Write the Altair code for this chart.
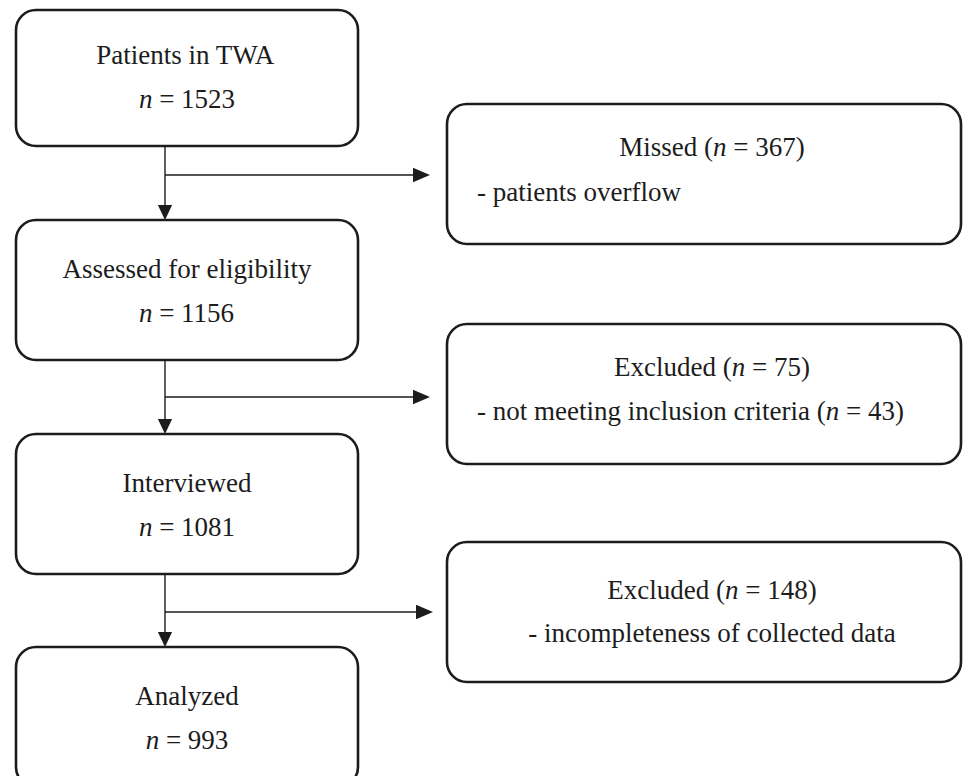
import altair as alt
import pandas as pd

# ---------------- data ----------------
stage_labels = ["Patients in TWA", "Assessed for eligibility", "Interviewed", "Analyzed"]
stage_counts = [1523, 1156, 1081, 993]
side_titles = ["Missed", "Excluded", "Excluded"]
side_counts = [367, 75, 148]
side_reasons = ["patients overflow", "not meeting inclusion criteria", "incompleteness of collected data"]
side_reason_counts = [None, 43, None]

# ---------------- layout (page pixels) ----------------
PX0, PX1 = 8, 963
PY0, PY1 = 8, 776
stage_box_x = (16, 358)
stage_box_tops = [6, 220, 434, 647]
stage_box_draw_tops = [10, 220, 434, 647]
stage_box_h = 140
stage_cx = 187
stage_line1_dy = 58
stage_line2_dy = 102
side_box_x = (447, 961)
side_box_tops = [104, 324, 542]
side_box_h = 140
side_cx = 712
side_left = 477
side_line1_dy = [52, 52, 57]
side_line2_dy = [97, 96, 100]
side_line2_align = ["left", "left", "center"]
branch_y = [175, 397, 612]
branch_tip_x = [430, 430, 433]
trunk_x = 165
head_len_v = 15
head_len_h = 17

FONT = "Liberation Serif"
FS = 27
INK = "#1c1c1c"

# Times / Liberation Serif advance widths (em)
W = {" ": .25, "(": .333, ")": .333, "=": .564, "-": .333,
     "a": .444, "b": .5, "c": .444, "d": .5, "e": .444, "f": .333, "g": .5,
     "h": .5, "i": .278, "l": .278, "m": .778, "n": .5, "o": .5, "p": .5,
     "r": .333, "s": .389, "t": .278, "u": .5, "v": .5, "w": .722, "y": .5,
     "z": .444, "x": .5, "A": .722, "E": .611, "I": .333, "M": .889,
     "P": .556, "T": .611, "W": .944}


def width(s):
    return sum(W.get(c, 0.5) for c in s) * FS


def place(segs, y, anchor, align):
    total = sum(width(t) for t, _ in segs)
    x = anchor - total / 2 if align == "center" else anchor
    rows = []
    for t, it in segs:
        lead = len(t) - len(t.lstrip(" "))
        rows.append(dict(x=x + lead * W[" "] * FS, y=y, text=t.strip(" "), italic=it))
        x += width(t)
    return rows


# ---------------- tables ----------------
box_rows = []
for dtop, top in zip(stage_box_draw_tops, stage_box_tops):
    box_rows.append(dict(x=stage_box_x[0], x2=stage_box_x[1], y=dtop, y2=top + stage_box_h))
for top in side_box_tops:
    box_rows.append(dict(x=side_box_x[0], x2=side_box_x[1], y=top, y2=top + side_box_h))
box_df = pd.DataFrame(box_rows)

text_rows = []
for lab, cnt, top in zip(stage_labels, stage_counts, stage_box_tops):
    text_rows += place([(lab, False)], top + stage_line1_dy, stage_cx, "center")
    text_rows += place([("n", True), (f" = {cnt}", False)], top + stage_line2_dy, stage_cx, "center")
for i, (tt, cnt, rs, rc, top) in enumerate(zip(side_titles, side_counts, side_reasons,
                                                side_reason_counts, side_box_tops)):
    text_rows += place([(f"{tt} (", False), ("n", True), (f" = {cnt})", False)],
                       top + side_line1_dy[i], side_cx, "center")
    if rc is None:
        segs = [(f"- {rs}", False)]
    else:
        segs = [(f"- {rs} (", False), ("n", True), (f" = {rc})", False)]
    al = side_line2_align[i]
    text_rows += place(segs, top + side_line2_dy[i], side_left if al == "left" else side_cx, al)
text_df = pd.DataFrame(text_rows)

rule_rows = []
down_rows = []
right_rows = []
for k in range(3):
    bottom = stage_box_tops[k] + stage_box_h
    nxt = stage_box_tops[k + 1]
    rule_rows.append(dict(x=trunk_x, x2=trunk_x, y=bottom, y2=nxt - head_len_v + 1))
    down_rows.append(dict(x=trunk_x, y=nxt - head_len_v / 2))
    rule_rows.append(dict(x=trunk_x, x2=branch_tip_x[k] - head_len_h + 1, y=branch_y[k], y2=branch_y[k]))
    right_rows.append(dict(x=branch_tip_x[k] - head_len_h / 2, y=branch_y[k]))
rule_df = pd.DataFrame(rule_rows)
down_df = pd.DataFrame(down_rows)
right_df = pd.DataFrame(right_rows)

xs = alt.Scale(domain=[PX0, PX1], nice=False, zero=False)
ys = alt.Scale(domain=[PY0, PY1], nice=False, zero=False, reverse=True)
X = lambda f: alt.X(f, scale=xs, axis=None)
Y = lambda f: alt.Y(f, scale=ys, axis=None)

boxes = alt.Chart(box_df).mark_rect(
    cornerRadius=20, fill="white", stroke=INK, strokeWidth=2.6, clip=True
).encode(x=X("x:Q"), x2="x2:Q", y=Y("y:Q"), y2="y2:Q")

rules = alt.Chart(rule_df).mark_rule(color=INK, strokeWidth=1.4).encode(
    x=X("x:Q"), x2="x2:Q", y=Y("y:Q"), y2="y2:Q")

down_heads = alt.Chart(down_df).mark_point(
    shape="M -0.95 -1 L 0.95 -1 L 0 1 Z", size=225, filled=True, fill=INK, strokeWidth=0, opacity=1
).encode(x=X("x:Q"), y=Y("y:Q"))

right_heads = alt.Chart(right_df).mark_point(
    shape="M -1 -0.85 L 1 0 L -1 0.85 Z", size=289, filled=True, fill=INK, strokeWidth=0, opacity=1
).encode(x=X("x:Q"), y=Y("y:Q"))

base_text = alt.Chart(text_df)
reg_text = base_text.transform_filter("!datum.italic").mark_text(
    align="left", baseline="alphabetic", font=FONT, fontSize=FS, color=INK
).encode(x=X("x:Q"), y=Y("y:Q"), text="text:N")
ital_text = base_text.transform_filter("datum.italic").mark_text(
    align="left", baseline="alphabetic", font=FONT, fontSize=FS, fontStyle="italic", color=INK
).encode(x=X("x:Q"), y=Y("y:Q"), text="text:N")

chart = alt.layer(boxes, rules, down_heads, right_heads, reg_text, ital_text).properties(
    width=PX1 - PX0, height=PY1 - PY0, padding=0, background="white"
).configure_view(stroke="transparent")

chart.save("out.html", embed_options={"renderer": "svg", "actions": False})
